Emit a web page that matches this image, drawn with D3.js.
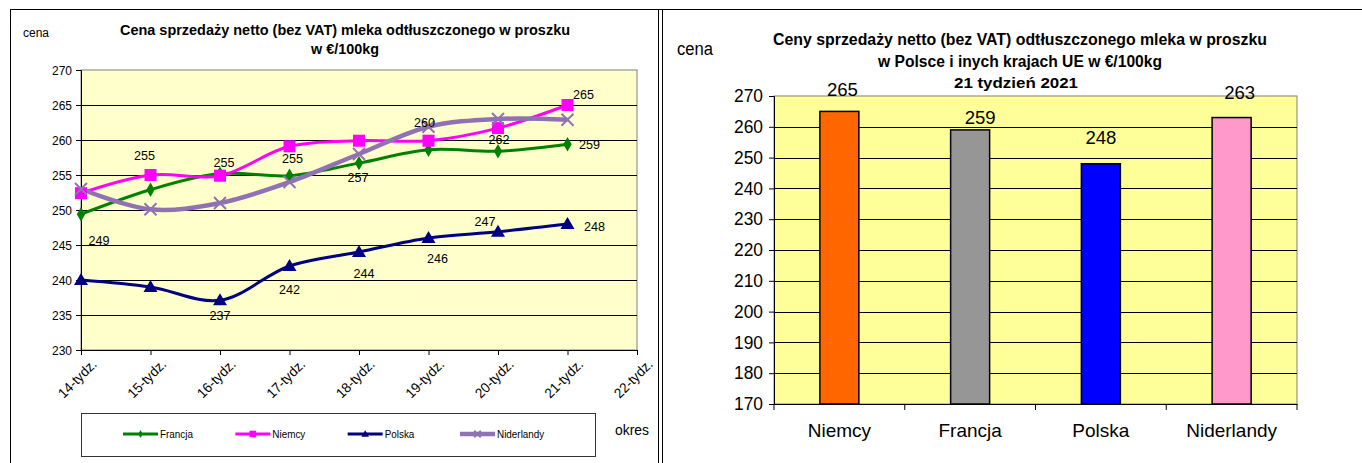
<!DOCTYPE html>
<html lang="pl">
<head>
<meta charset="utf-8">
<title>Ceny mleka w proszku</title>
<script src="https://cdn.jsdelivr.net/npm/d3@7"></script>
<style>
  body { margin: 0; background: #fff; }
  text { font-family: Arial, "Liberation Sans", sans-serif; fill: #000; }
</style>
</head>
<body>
<script>
// --- data ---
var weeks = ["14-tydz.", "15-tydz.", "16-tydz.", "17-tydz.", "18-tydz.", "19-tydz.", "20-tydz.", "21-tydz.", "22-tydz."];
var francja    = [249.4, 252.9, 255.2, 254.9, 256.7, 258.6, 258.4, 259.4];
var niemcy     = [252.4, 255.0, 254.9, 259.1, 259.9, 259.9, 261.7, 265.0];
var polska     = [240.0, 239.0, 237.1, 242.0, 244.0, 246.0, 246.9, 248.0];
var niderlandy = [253.0, 250.1, 251.0, 254.0, 258.0, 261.9, 263.0, 262.9];

var countries = ["Niemcy", "Francja", "Polska", "Niderlandy"];
var week21    = [265, 259, 248, 263];

var w = 1362, h = 463;
var svg = d3.select("body").append("svg").attr("width", w).attr("height", h);

// outer frames
svg.append("line").attr("x1", 10).attr("x2", w).attr("y1", 9.5).attr("y2", 9.5).attr("stroke", "#000");
svg.append("line").attr("x1", 10.5).attr("x2", 10.5).attr("y1", 9.5).attr("y2", h).attr("stroke", "#000");
svg.append("line").attr("x1", 658.5).attr("x2", 658.5).attr("y1", 9.5).attr("y2", h).attr("stroke", "#000");
svg.append("line").attr("x1", 662.5).attr("x2", 662.5).attr("y1", 9.5).attr("y2", h).attr("stroke", "#000");

// ================= left: line chart =================
var series = [
  {name: "Francja",    values: francja,    color: "#008000", width: 3,   marker: "diamond"},
  {name: "Niemcy",     values: niemcy,     color: "#ff00ff", width: 3,   marker: "square"},
  {name: "Polska",     values: polska,     color: "#000080", width: 3,   marker: "triangle"},
  {name: "Niderlandy", values: niderlandy, color: "#9072b4", width: 4.5, marker: "cross"}
];

var xL = d3.scalePoint().domain(weeks).range([81, 637]);
var yL = d3.scaleLinear().domain([230, 270]).range([350, 70]);

var left = svg.append("g");
left.append("rect").attr("x", 81).attr("y", 70).attr("width", 556).attr("height", 280)
  .attr("fill", "#ffffcc").attr("stroke", "#808080");

left.append("g").selectAll("line").data(d3.range(235, 270, 5)).enter().append("line")
  .attr("x1", 81).attr("x2", 637)
  .attr("y1", function(d) { return Math.round(yL(d)) + 0.5; })
  .attr("y2", function(d) { return Math.round(yL(d)) + 0.5; })
  .attr("stroke", "#000");

var yAxisL = left.append("g").attr("transform", "translate(81,0)")
  .call(d3.axisLeft(yL).tickValues(d3.range(230, 271, 5)).tickSize(5).tickPadding(4));
yAxisL.selectAll("text").attr("font-size", 13).attr("fill", "#222")
  .attr("textLength", 20).attr("lengthAdjust", "spacingAndGlyphs");

var xAxisL = left.append("g").attr("transform", "translate(0,350)")
  .call(d3.axisBottom(xL).tickSize(5).tickSizeOuter(0));
xAxisL.selectAll("text").attr("font-size", 14).attr("fill", "#222")
  .attr("text-anchor", "end")
  .attr("textLength", 48).attr("lengthAdjust", "spacingAndGlyphs")
  .attr("transform", "translate(7,6) rotate(-45)")
  .attr("dy", "0.35em");
left.selectAll(".domain").attr("stroke", "#000");

var line = d3.line()
  .x(function(d, i) { return xL(weeks[i]); })
  .y(function(d) { return yL(d); })
  .curve(d3.curveCatmullRom.alpha(0.5));

function drawMarker(g, type, color, x, y, s) {
  if (type === "diamond") {
    g.append("path").attr("d", d3.symbol(d3.symbolDiamond, 60)())
      .attr("transform", "translate(" + x + "," + y + ") scale(" + s + ")").attr("fill", color);
  } else if (type === "square") {
    g.append("rect").attr("x", x - 6 * s).attr("y", y - 6 * s).attr("width", 12 * s).attr("height", 12 * s).attr("fill", color);
  } else if (type === "triangle") {
    g.append("path").attr("d", "M0,-7L7,5L-7,5Z")
      .attr("transform", "translate(" + x + "," + y + ") scale(" + s + ")").attr("fill", color);
  } else {
    g.append("path").attr("d", "M-6,-6L6,6M-6,6L6,-6")
      .attr("transform", "translate(" + x + "," + y + ") scale(" + s + ")")
      .attr("stroke", color).attr("stroke-width", 2 / s).attr("fill", "none");
  }
}

series.forEach(function(s) {
  left.append("path").attr("d", line(s.values)).attr("fill", "none")
    .attr("stroke", s.color).attr("stroke-width", s.width);
});
series.forEach(function(s) {
  s.values.forEach(function(v, i) {
    drawMarker(left, s.marker, s.color, xL(weeks[i]), yL(v), 1);
  });
});

// value labels: which series / which week, nudged off the marker
var labelSpots = [
  {s: 0, i: 0, dx: 18, dy: 26}, {s: 1, i: 1, dx: -6, dy: -20}, {s: 1, i: 2, dx: 4, dy: -13},
  {s: 0, i: 3, dx: 3, dy: -17}, {s: 0, i: 4, dx: -1, dy: 14}, {s: 1, i: 5, dx: -4, dy: -18},
  {s: 1, i: 6, dx: 1, dy: 11}, {s: 1, i: 7, dx: 16, dy: -11}, {s: 0, i: 7, dx: 22, dy: 0},
  {s: 2, i: 2, dx: 0, dy: 15}, {s: 2, i: 3, dx: 0, dy: 23}, {s: 2, i: 4, dx: 5, dy: 21},
  {s: 2, i: 5, dx: 9, dy: 20}, {s: 2, i: 6, dx: -13, dy: -10}, {s: 2, i: 7, dx: 27, dy: 2}
];
left.append("g").selectAll("text").data(labelSpots).enter().append("text")
  .attr("x", function(d) { return xL(weeks[d.i]) + d.dx; })
  .attr("y", function(d) { return yL(series[d.s].values[d.i]) + d.dy; })
  .attr("dy", "0.35em").attr("text-anchor", "middle").attr("font-size", 13).attr("fill", "#222")
  .attr("textLength", 21).attr("lengthAdjust", "spacingAndGlyphs")
  .text(function(d) { return Math.round(series[d.s].values[d.i]); });

// titles
left.append("text").attr("x", 345).attr("y", 35).attr("text-anchor", "middle")
  .attr("font-size", 15).attr("font-weight", "bold")
  .attr("textLength", 450).attr("lengthAdjust", "spacingAndGlyphs")
  .text("Cena sprzedaży netto (bez VAT) mleka  odtłuszczonego w proszku");
left.append("text").attr("x", 345).attr("y", 54).attr("text-anchor", "middle")
  .attr("font-size", 15).attr("font-weight", "bold")
  .attr("textLength", 68).attr("lengthAdjust", "spacingAndGlyphs")
  .text("w €/100kg");
left.append("text").attr("x", 23).attr("y", 37).attr("font-size", 12)
  .attr("font-family", "'Liberation Serif', 'DejaVu Serif', serif").text("cena");
left.append("text").attr("x", 615).attr("y", 435).attr("font-size", 14)
  .attr("textLength", 34).attr("lengthAdjust", "spacingAndGlyphs").text("okres");

// legend
var legend = left.append("g");
legend.append("rect").attr("x", 81.5).attr("y", 413.5).attr("width", 514).attr("height", 43)
  .attr("fill", "#fff").attr("stroke", "#333");
var legX = d3.scalePoint().domain(series.map(function(s) { return s.name; })).range([123, 460]);
series.forEach(function(s) {
  var x0 = legX(s.name);
  legend.append("line").attr("x1", x0).attr("x2", x0 + 35).attr("y1", 434).attr("y2", 434)
    .attr("stroke", s.color).attr("stroke-width", s.width);
  drawMarker(legend, s.marker, s.color, x0 + 17.5, 434, 0.55);
  legend.append("text").attr("x", x0 + 37).attr("y", 434).attr("dy", "0.35em")
    .attr("font-size", 11).attr("transform", "translate(" + (x0 + 37) * 0.1 + ",0) scale(0.9,1)")
    .text(s.name);
});

// ================= right: bar chart =================
var barColors = ["#ff6600", "#969696", "#0000ff", "#ff99cc"];
var bandR = d3.scaleBand().domain(countries).range([774, 1297]);
var yR = d3.scaleLinear().domain([170, 270]).range([404, 96]);

var right = svg.append("g");
right.append("rect").attr("x", 774).attr("y", 96).attr("width", 523).attr("height", 308)
  .attr("fill", "#ffff99").attr("stroke", "#808080");
right.append("g").selectAll("line").data(d3.range(180, 270, 10)).enter().append("line")
  .attr("x1", 774).attr("x2", 1297)
  .attr("y1", function(d) { return Math.round(yR(d)) + 0.5; })
  .attr("y2", function(d) { return Math.round(yR(d)) + 0.5; })
  .attr("stroke", "#000");

var yAxisR = right.append("g").attr("transform", "translate(774,0)")
  .call(d3.axisLeft(yR).tickValues(d3.range(170, 271, 10)).tickSize(5).tickPadding(6));
yAxisR.selectAll("text").attr("font-size", 18)
  .attr("textLength", 29).attr("lengthAdjust", "spacingAndGlyphs");

var xAxisR = right.append("g").attr("transform", "translate(0,404)")
  .call(d3.axisBottom(bandR).tickSize(0).tickSizeOuter(0).tickPadding(20));
xAxisR.selectAll("text").attr("font-size", 19);
right.append("g").selectAll("line").data(d3.range(5)).enter().append("line")
  .attr("x1", function(d) { return 774 + d * bandR.bandwidth(); })
  .attr("x2", function(d) { return 774 + d * bandR.bandwidth(); })
  .attr("y1", 404).attr("y2", 410).attr("stroke", "#000");
right.selectAll(".domain").attr("stroke", "#000");

right.append("g").selectAll("rect").data(week21).enter().append("rect")
  .attr("x", function(d, i) { return bandR(countries[i]) + bandR.bandwidth() / 2 - 19.5; })
  .attr("y", function(d) { return yR(d); })
  .attr("width", 39)
  .attr("height", function(d) { return yR(170) - yR(d); })
  .attr("fill", function(d, i) { return barColors[i]; })
  .attr("stroke", "#000").attr("stroke-width", 1.5);

var barLabelNudge = [{dx: 3, dy: -15}, {dx: 10, dy: -6}, {dx: 0, dy: -20}, {dx: 8, dy: -19}];
right.append("g").selectAll("text").data(week21).enter().append("text")
  .attr("x", function(d, i) { return bandR(countries[i]) + bandR.bandwidth() / 2 + barLabelNudge[i].dx; })
  .attr("y", function(d, i) { return yR(d) + barLabelNudge[i].dy; })
  .attr("text-anchor", "middle").attr("font-size", 19)
  .attr("textLength", 31).attr("lengthAdjust", "spacingAndGlyphs")
  .text(function(d) { return d; });

right.append("text").attr("x", 1020).attr("y", 45).attr("text-anchor", "middle")
  .attr("font-size", 16).attr("font-weight", "bold")
  .attr("textLength", 494).attr("lengthAdjust", "spacingAndGlyphs")
  .text("Ceny sprzedaży netto  (bez VAT) odtłuszczonego mleka w proszku");
right.append("text").attr("x", 1020).attr("y", 67).attr("text-anchor", "middle")
  .attr("font-size", 16).attr("font-weight", "bold")
  .attr("textLength", 284).attr("lengthAdjust", "spacingAndGlyphs")
  .text("w Polsce i inych  krajach  UE w €/100kg");
right.append("text").attr("x", 1016).attr("y", 88).attr("text-anchor", "middle")
  .attr("font-size", 15).attr("font-weight", "bold")
  .attr("textLength", 124).attr("lengthAdjust", "spacingAndGlyphs")
  .text("21  tydzień 2021");
right.append("text").attr("x", 677).attr("y", 55).attr("font-size", 18)
  .attr("textLength", 36).attr("lengthAdjust", "spacingAndGlyphs").text("cena");
</script>
</body>
</html>
